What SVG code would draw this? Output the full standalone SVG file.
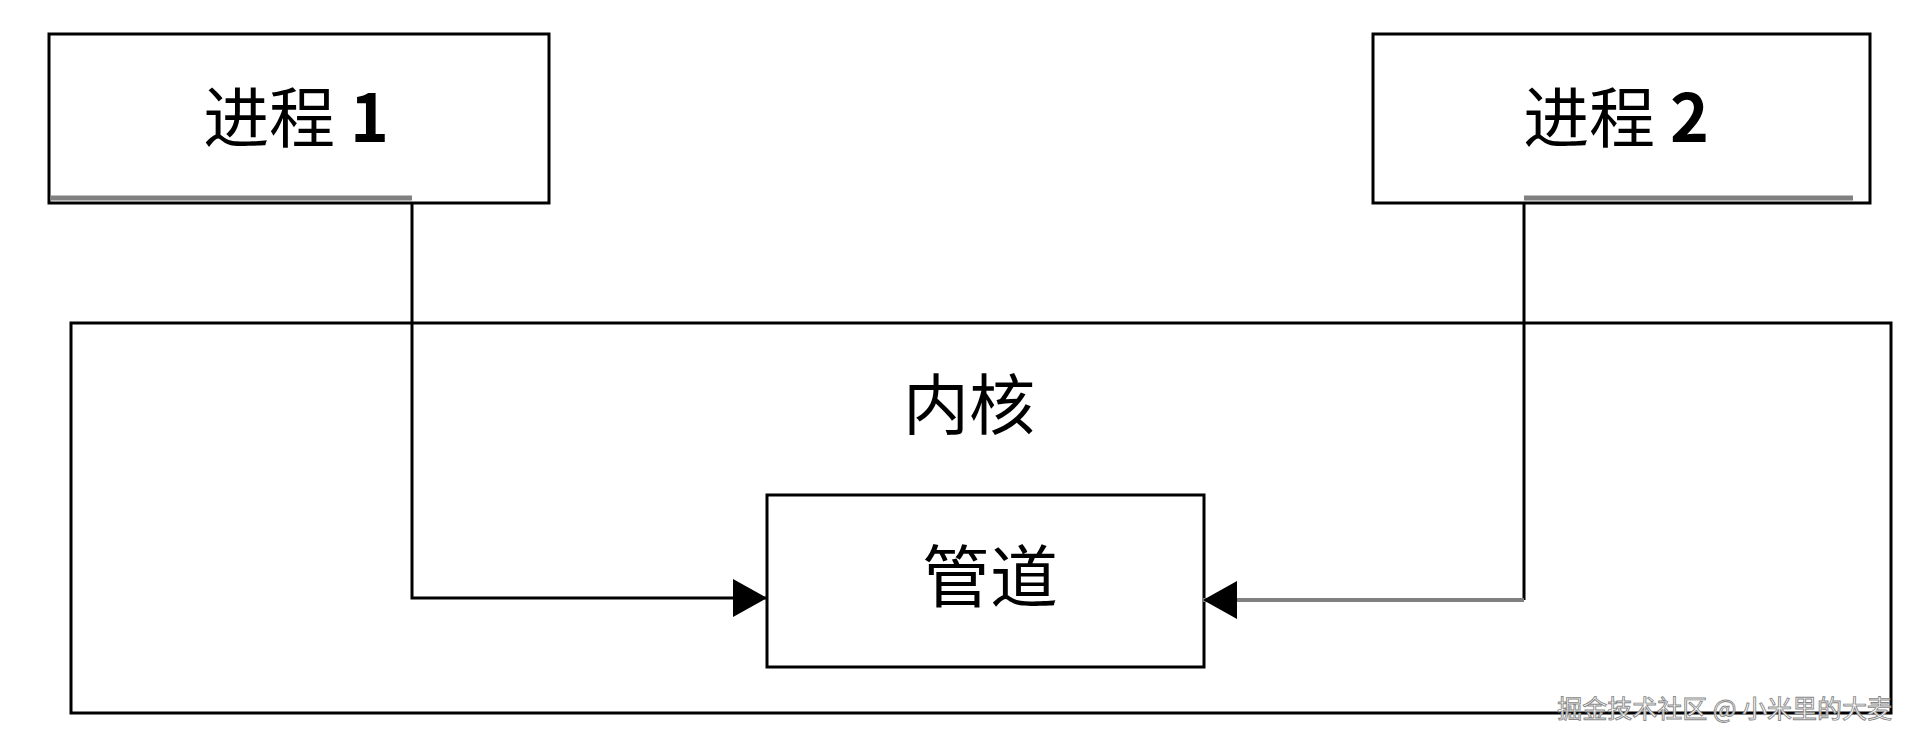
<svg xmlns="http://www.w3.org/2000/svg" width="1915" height="742" viewBox="0 0 1915 742">
<style>
.box{fill:#fff;stroke:#000;stroke-width:3}
.shadow{stroke:#808080;stroke-width:5;fill:none}
.lbl{font-family:"Noto Sans CJK SC","Noto Sans",sans-serif;font-weight:normal;fill:#000;text-anchor:middle;dominant-baseline:central}
.num{font-weight:bold}
.wire{fill:none;stroke:#000;stroke-width:3}
.wm{font-family:"Noto Sans CJK SC",sans-serif;font-size:25px;fill:#fff;stroke:#888;stroke-width:0.9;text-anchor:end;dominant-baseline:central}
</style>
<defs>
<marker id="ah" viewBox="0 0 34 38" refX="34" refY="19" markerWidth="34" markerHeight="38" markerUnits="userSpaceOnUse" orient="auto">
<path d="M0,0 L34,19 L0,38 Z" fill="#000"/>
</marker>
</defs>
<rect width="1915" height="742" fill="#fff"/>
<g id="kernel">
<rect class="box" x="71" y="323" width="1820" height="390"/>
<text class="lbl" x="969" y="400" font-size="66">内核</text>
</g>
<g id="proc1">
<rect class="box" x="49" y="34" width="500" height="169"/>
<line class="shadow" x1="50" y1="198" x2="412" y2="198"/>
<text class="lbl" x="296" y="113" font-size="66">进程 <tspan class="num">1</tspan></text>
</g>
<g id="proc2">
<rect class="box" x="1373" y="34" width="497" height="169"/>
<line class="shadow" x1="1524" y1="198" x2="1853" y2="198"/>
<text class="lbl" x="1616" y="113" font-size="66">进程 <tspan class="num">2</tspan></text>
</g>
<g id="pipe">
<rect class="box" x="767" y="495" width="437" height="172"/>
<text class="lbl" x="990" y="572" font-size="68">管道</text>
</g>
<g id="connectors">
<path class="wire" d="M412,203 L412,598 L767,598" marker-end="url(#ah)"/>
<path class="wire" d="M1524,203 L1524,600"/>
<path d="M1524,600 L1203,600" fill="none" stroke="#808080" stroke-width="4" marker-end="url(#ah)"/>
</g>
<text class="wm" x="1892" y="707">掘金技术社区 @ 小米里的大麦</text>
</svg>
